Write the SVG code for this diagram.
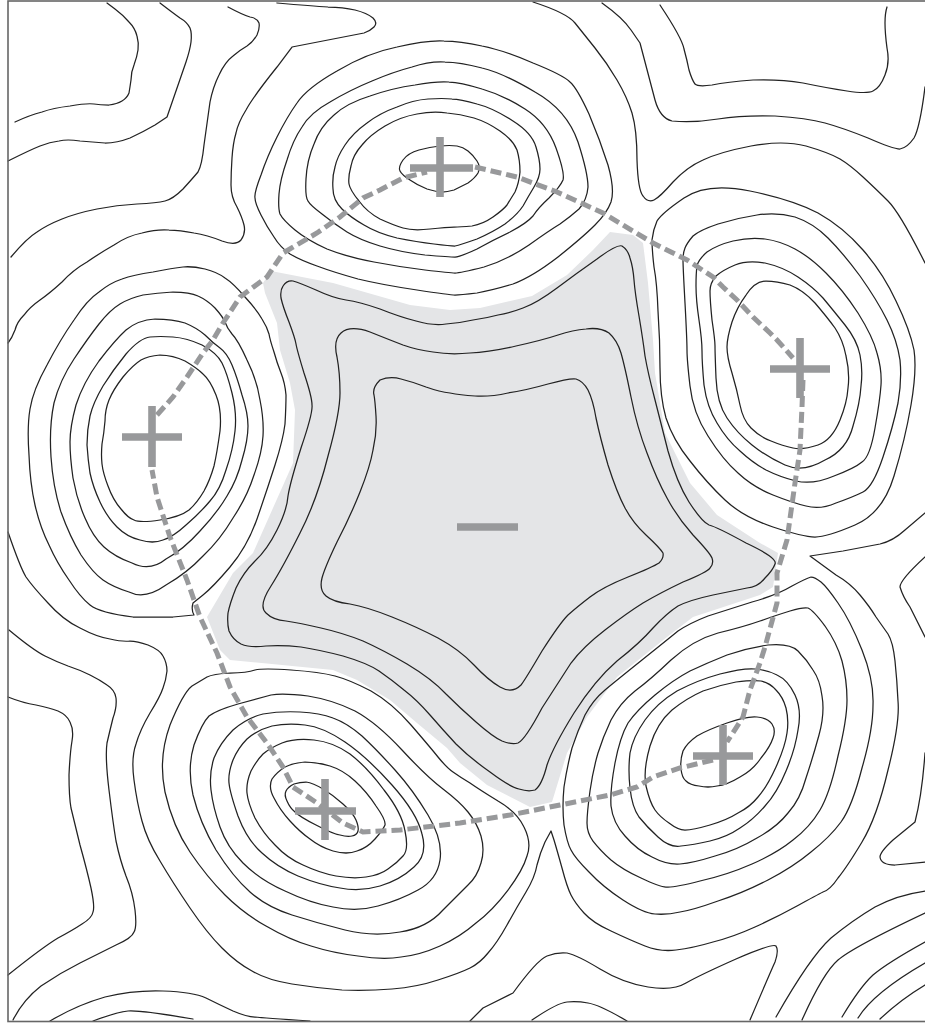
<svg xmlns="http://www.w3.org/2000/svg" width="925" height="1023" viewBox="0 0 925 1023">
<style>
.c path{fill:none;stroke:#222;stroke-width:1.25;stroke-linejoin:round;stroke-linecap:round}
.d{fill:none;stroke:#98999b;stroke-width:5;stroke-dasharray:11 5}
.p{fill:none;stroke:#98999b;stroke-width:7.6}
</style>
<rect width="925" height="1023" fill="#fff"/>
<polygon id="basin" fill="#e4e5e7" points="271,271 333,283 410,305 450,310 480,308 532,296 567,275 593,250 610,232 633,235 643,243 648,283 653,340 655,373 665,433 690,483 717,515 760,543 778,553 773,587 760,595 693,617 667,637 617,677 587,717 567,753 552,802 530,807 487,785 460,763 447,748 417,723 390,700 357,680 333,670 230,660 220,650 207,617 233,573 253,553 293,463 295,410 290,383 280,350 277,323 265,293 263,283"/>
<g id="contours" class="c">
<path d="M400,171 Q398,167 403,160 408,153 419,150 430,147 440,146 450,145 457,146 463,147 468,151 473,155 477,161 481,167 478,173 475,178 468,183 460,187 454,190 447,192 442,192 437,192 427,189 417,185 410,180 402,175 400,171Z"/>
<path d="M349,184 Q348,177 351,166 353,155 362,145 370,135 385,126 400,117 417,114 433,111 447,113 460,114 474,118 487,122 500,131 513,140 517,150 520,160 520,172 519,183 515,192 510,200 507,205 503,210 493,217 483,224 472,226 460,227 454,227 447,227 430,229 413,231 403,228 393,225 380,219 367,212 359,201 350,190 349,184Z"/>
<path d="M333,189 Q332,177 335,167 337,157 345,145 353,133 367,123 380,113 397,107 413,100 428,99 443,98 452,99 460,99 477,104 493,108 513,121 532,133 536,147 540,160 540,169 540,177 534,187 528,197 523,206 517,215 505,224 493,232 477,239 460,245 455,246 450,246 434,244 417,242 397,238 377,233 364,225 350,217 342,209 333,200 333,189Z"/>
<path d="M308,201 Q305,197 306,179 307,160 314,144 320,127 334,115 347,103 370,96 393,88 415,85 437,81 449,82 460,82 482,89 503,95 525,109 547,123 556,148 565,173 563,180 560,187 549,198 538,208 533,216 527,223 510,232 493,240 477,249 460,257 455,257 450,257 425,255 400,252 380,246 360,240 347,232 333,223 322,214 310,205 308,201Z"/>
<path d="M280,214 Q278,208 279,194 280,180 287,160 293,140 302,127 310,113 330,102 350,90 372,81 393,72 412,67 430,61 445,62 460,62 482,68 503,73 535,92 567,110 578,142 588,173 588,187 587,200 579,209 570,217 560,224 550,230 529,245 507,260 484,267 460,273 455,273 450,273 425,270 400,267 374,262 347,257 327,249 307,240 295,230 283,220 280,214Z"/>
<path d="M255,198 Q254,193 261,175 267,157 277,137 287,117 297,103 307,88 337,71 367,53 397,47 427,40 444,41 460,41 482,46 503,50 533,63 563,75 570,82 577,88 589,114 600,140 608,165 615,190 611,202 607,213 595,225 583,237 558,257 532,277 513,284 493,290 477,293 460,295 455,295 450,295 417,290 383,285 358,279 333,272 317,266 300,260 290,254 280,247 274,237 267,227 261,215 255,203 255,198Z"/>
<path d="M107,3 L115,9 Q123,15 129,22 135,28 137,36 139,43 138,50 137,57 134,65 131,72 131,80 130,87 129,93 127,98 122,101 117,104 109,105 100,105 94,104 87,103 70,106 53,108 42,112 30,115 15,122"/>
<path d="M160,3 Q173,13 180,18 187,22 190,28 192,33 191,42 190,50 186,62 L167,117 L155,125 Q143,132 130,138 117,143 105,143 93,142 80,141 67,139 59,141 50,142 40,146 30,150 8,161"/>
<path d="M228,7 Q243,15 250,17 257,18 259,23 260,28 257,35 253,42 247,46 240,50 233,56 225,62 219,75 213,87 210,102 L204,145 Q202,165 198,172 193,178 183,189 173,199 165,201 157,203 137,204 117,205 97,209 77,213 62,219 47,225 37,232 27,238 11,257"/>
<path d="M277,3 Q313,6 328,7 343,7 355,10 367,13 373,18 378,23 374,27 370,31 364,33 L292,47 L277,67 Q253,97 246,110 238,123 236,133 233,143 232,158 231,173 231,185 231,197 237,207 242,217 244,225 246,233 241,240 236,246 222,241 207,235 194,233 180,230 169,230 157,229 142,233 127,236 114,245 100,253 87,262 73,270 62,282 50,293 40,300 30,307 24,315 17,322 15,330 12,338 8,343"/>
<path d="M47,365 Q60,340 74,320 87,300 99,292 110,283 122,279 133,275 153,272 173,268 183,267 192,266 205,269 217,272 225,278 233,283 245,297 257,310 262,319 267,327 269,334 270,340 274,352 277,363 281,373 285,383 286,395 286,407 285,424 283,440 275,465 267,490 257,519 247,547 230,567 213,587 203,595 L193,603 Q191,610 194,615 L173,617 L133,617 Q100,613 90,605 80,597 69,580 57,563 49,545 40,527 35,505 30,483 29,455 27,427 30,409 33,390 47,365Z"/>
<path d="M105,421 Q105,410 109,400 113,390 123,377 133,365 141,360 148,356 160,355 173,355 185,361 197,368 203,374 210,380 216,395 222,410 220,431 217,453 214,466 210,480 204,491 197,503 189,510 180,517 160,520 140,523 134,520 128,518 121,509 113,500 108,486 103,473 102,464 101,455 102,444 104,433 105,421Z"/>
<path d="M87,445 Q87,430 90,416 93,403 103,386 113,370 126,354 140,338 150,337 160,336 173,337 187,338 202,345 217,353 222,363 227,373 232,393 237,413 235,431 233,450 226,470 220,490 210,501 200,513 186,525 173,537 163,540 153,544 140,540 127,537 117,527 107,517 100,502 93,487 90,473 88,460 87,445Z"/>
<path d="M70,442 Q70,427 76,405 83,383 99,361 115,340 126,330 138,320 155,319 173,319 185,323 197,328 205,335 213,343 220,348 227,353 232,365 237,377 242,395 248,413 248,426 248,440 242,460 237,480 227,496 217,513 200,531 183,550 166,559 150,572 132,563 115,557 104,547 93,537 85,518 77,500 73,478 70,457 70,442Z"/>
<path d="M51,457 Q49,427 54,403 60,380 74,359 88,338 99,324 110,310 120,304 130,298 143,295 157,293 173,292 190,292 198,296 207,300 215,308 223,317 225,322 227,328 232,334 238,340 247,360 257,380 260,400 264,420 263,436 262,453 254,475 247,497 233,518 220,540 203,556 187,573 166,585 145,600 129,592 113,587 103,580 93,573 81,555 70,537 61,512 53,487 51,457Z"/>
<path d="M8,532 Q20,567 26,577 33,587 48,603 63,620 80,628 97,637 110,639 123,642 130,641 137,641 148,645 160,650 163,656 167,663 167,671 166,680 163,688 160,697 150,713 140,730 136,744 131,758 134,780 137,803 142,821 147,840 160,861 173,883 190,908 207,933 222,948 237,963 252,971 267,980 292,984 317,988 342,990 367,991 392,989 417,987 438,980 460,973 470,968 480,963 488,953 497,943 507,925 517,907 526,892 535,877 537,865 540,853 545,842 L551,831 L554,840 Q557,850 562,868 567,887 571,895 575,903 584,913 593,923 611,931 630,940 645,946 660,952 676,950 693,948 713,942 733,937 755,927 777,917 797,906 817,895 823,892 830,890 838,878 847,867 862,842 877,817 888,770 900,723 898,701 897,680 895,661 893,642 888,634 883,627 876,617 870,607 860,595 850,583 836,575 L810,556 L843,551 L880,544 Q893,541 905,530 L925,513"/>
<path d="M681,769 Q680,760 683,751 687,743 697,736 707,730 727,723 747,716 757,717 768,718 772,724 776,730 773,738 770,747 761,758 753,770 740,777 727,785 717,786 708,788 699,786 690,785 686,781 682,778 681,769Z"/>
<path d="M650,746 Q643,770 646,786 650,803 655,810 660,817 669,823 678,830 685,830 693,830 710,825 727,820 738,813 750,807 758,797 767,787 776,767 785,747 787,733 789,720 786,708 783,697 776,690 770,683 761,681 753,680 736,682 720,685 703,691 687,698 672,710 657,723 650,746Z"/>
<path d="M630,753 Q628,770 630,788 632,807 639,817 647,827 658,837 670,848 681,846 693,845 710,841 727,837 740,828 753,820 765,806 777,793 786,771 795,750 798,730 802,710 795,695 788,680 777,675 767,670 755,669 743,668 720,674 698,680 677,691 657,703 645,720 633,737 630,753Z"/>
<path d="M615,763 Q610,790 611,806 613,823 625,836 637,850 652,857 667,865 680,864 693,863 715,856 737,850 757,838 777,827 788,813 800,800 806,778 813,757 819,735 825,713 822,696 820,680 813,670 807,660 798,651 790,643 768,645 747,648 727,655 707,663 690,671 673,680 655,695 637,710 628,723 620,737 615,763Z"/>
<path d="M590,791 Q587,813 587,823 587,833 593,841 600,850 611,860 623,870 641,878 660,887 666,887 673,888 700,881 727,875 752,864 777,853 793,840 810,827 820,810 830,793 838,756 847,720 847,700 847,680 842,661 837,643 825,626 813,610 808,608 803,607 790,611 777,615 760,621 743,627 718,633 693,640 671,660 650,680 635,691 620,703 611,720 603,737 598,753 593,770 590,791Z"/>
<path d="M564,787 Q562,807 564,825 567,843 571,850 575,858 589,872 603,887 623,900 643,913 655,914 667,915 680,912 693,910 718,901 743,893 768,880 793,867 811,852 830,837 841,822 852,807 862,768 873,730 873,705 874,680 862,650 850,620 838,603 827,587 821,582 815,577 811,577 807,578 792,586 777,595 752,602 727,610 708,616 690,623 678,631 667,640 642,660 617,680 605,690 593,700 585,715 578,730 572,748 567,767 564,787Z"/>
<path d="M287,801 Q284,795 286,791 288,787 294,784 300,782 306,782 313,783 323,789 333,795 343,804 353,813 356,820 359,827 358,831 357,835 352,836 347,837 340,835 333,834 316,825 300,817 295,812 290,808 287,801Z"/>
<path d="M274,798 Q268,787 272,779 277,772 285,767 293,763 305,762 317,762 330,766 343,770 355,781 367,792 376,806 386,820 385,825 383,830 375,839 367,848 357,851 347,855 333,851 320,847 310,839 300,832 290,821 280,810 274,798Z"/>
<path d="M247,793 Q246,783 251,771 257,760 263,754 270,748 282,743 295,738 314,740 333,742 350,754 367,767 384,790 402,813 405,831 409,850 403,856 397,863 388,869 380,875 366,877 353,879 336,876 320,873 303,865 287,858 275,845 263,833 255,818 248,803 247,793Z"/>
<path d="M229,783 Q228,773 233,760 238,748 247,739 257,730 272,726 287,723 305,725 323,727 345,742 367,757 392,785 417,813 422,834 428,855 414,867 400,880 380,886 360,892 340,888 320,885 298,876 277,867 262,853 247,840 238,816 230,793 229,783Z"/>
<path d="M211,790 Q209,773 214,758 220,743 233,730 247,718 263,714 280,711 300,712 320,713 333,718 347,723 362,736 377,750 395,770 413,790 428,815 443,840 440,860 437,880 418,890 400,900 378,906 357,912 333,907 310,903 285,891 260,880 243,863 227,847 220,827 213,807 211,790Z"/>
<path d="M193,795 Q187,768 194,745 202,723 209,716 217,710 238,704 260,698 271,695 283,693 308,696 333,700 355,711 377,723 402,750 427,777 443,789 460,802 468,812 477,823 481,836 485,850 481,863 477,877 468,885 460,893 443,910 427,928 400,932 373,937 345,930 317,923 292,915 267,907 250,892 233,877 216,850 200,823 193,795Z"/>
<path d="M192,686 Q202,680 207,677 213,674 230,673 247,673 255,670 263,668 291,670 320,672 335,676 350,680 371,691 392,703 411,725 430,747 438,757 447,768 453,772 460,777 470,783 480,790 498,801 517,812 524,827 532,843 527,856 523,870 508,890 493,910 476,923 460,937 440,946 420,955 401,957 383,960 358,956 333,953 311,946 290,940 266,926 243,913 225,895 207,877 190,852 173,827 165,792 158,758 170,725 183,693 192,686Z"/>
<path d="M8,697 Q23,703 36,705 50,708 58,711 67,715 70,722 74,730 72,741 70,753 69,775 69,797 71,808 74,820 80,845 87,870 91,888 95,907 93,912 92,918 82,924 73,930 58,938 43,947 8,975"/>
<path d="M9,630 Q33,650 45,656 57,662 68,666 80,670 90,675 100,680 107,685 115,690 116,698 117,707 113,718 110,730 107,743 105,757 109,790 113,823 116,841 120,860 126,876 133,893 135,910 137,927 134,932 132,938 116,945 100,953 80,963 60,973 41,986 23,1000 13,1020"/>
<path d="M50,1021 Q77,1005 105,997 133,990 163,991 193,992 206,998 220,1005 233,1011 247,1017 255,1017 263,1018 310,1021"/>
<path d="M93,1021 Q117,1012 128,1011 140,1010 193,1019"/>
<path d="M470,1021 L483,1008 L513,993 Q537,960 547,956 557,952 567,953 577,955 600,969 623,983 648,987 673,991 686,983 700,975 736,959 773,943 776,946 779,950 775,962 770,973 750,1020"/>
<path d="M532,1020 Q557,1003 567,1002 577,1001 588,1003 600,1005 627,1021"/>
<path d="M776,1017 Q810,957 831,938 853,920 875,907 897,895 925,891"/>
<path d="M802,1020 Q823,973 838,960 853,947 925,913"/>
<path d="M842,1017 Q860,987 873,975 887,963 925,942"/>
<path d="M858,1018 Q873,993 925,963"/>
<path d="M880,1019 Q900,1000 925,985"/>
<path d="M925,753 Q922,795 915,822 L893,840 Q880,852 880,857 Q881,865 895,865 L925,862"/>
<path d="M925,557 Q900,580 900,587 Q903,597 910,607 L925,637"/>
<path d="M660,5 Q682,38 684,49 687,60 689,70 692,80 695,84 698,87 712,85 727,82 753,80 780,79 803,83 827,88 847,91 867,94 873,91 880,88 885,75 890,63 887,48 885,33 885,23 885,13 887,7"/>
<path d="M602,3 Q623,18 631,30 L640,43 L655,100 Q660,118 672,121 693,123 718,119 743,115 775,116 807,118 825,123 843,128 868,138 893,149 900,149 907,148 914,138 920,127 925,87"/>
<path d="M533,2 Q567,13 575,23 583,33 595,48 607,63 617,80 627,97 632,113 637,130 637,160 638,190 643,196 648,203 654,200 660,197 673,182 687,167 703,160 720,152 751,146 783,140 806,146 830,153 840,159 850,165 863,177 877,190 888,201 900,213 925,263"/>
<path d="M654,267 Q652,250 652,240 653,230 657,221 662,213 684,198 707,182 750,191 793,200 818,213 843,227 863,250 883,273 896,301 910,330 914,350 917,370 911,405 905,440 894,476 883,513 855,525 827,537 815,537 803,537 773,527 743,517 725,500 707,483 690,461 673,440 666,418 660,397 660,368 660,340 658,311 657,283 654,267Z"/>
<path d="M685,303 Q683,267 683,260 683,253 685,248 687,243 693,236 700,230 718,224 737,218 757,215 777,212 795,217 813,223 828,238 843,253 860,276 877,300 887,320 897,340 900,360 902,380 898,403 893,427 883,457 873,487 863,492 853,497 836,503 820,510 806,506 793,503 773,495 753,487 738,473 723,460 708,436 693,413 690,386 687,360 687,350 687,340 685,303Z"/>
<path d="M696,286 Q696,273 697,266 698,260 707,252 717,245 733,241 750,237 765,239 780,241 795,249 810,257 826,273 843,290 858,313 873,337 877,353 882,370 881,385 880,400 875,428 870,457 862,462 855,468 834,476 813,485 796,481 780,477 766,470 753,463 740,451 727,440 717,423 707,407 704,385 702,363 702,351 702,340 699,320 696,300 696,286Z"/>
<path d="M710,291 Q710,283 716,276 723,270 735,265 747,260 765,263 783,267 798,277 813,287 823,298 833,310 845,325 857,340 860,355 863,370 861,386 860,403 853,426 847,450 825,460 803,473 785,465 767,457 752,445 737,433 727,418 717,403 716,378 715,353 715,346 715,340 712,320 710,300 710,291Z"/>
<path d="M727,347 Q727,338 732,322 737,307 746,295 755,281 766,281 777,281 790,285 803,290 815,303 827,317 835,328 843,340 846,356 850,373 848,388 847,403 840,420 832,440 818,445 803,450 793,448 783,446 771,441 760,437 751,428 743,420 740,405 737,390 732,373 727,357 727,347Z"/>
<path d="M281,298 Q280,290 283,286 287,280 293,281 300,283 316,290 333,298 346,300 360,302 380,309 400,317 416,321 433,326 446,324 460,323 473,320 487,318 498,315 510,313 523,308 537,303 557,288 577,273 597,259 617,244 622,246 628,250 630,258 633,267 634,280 635,293 639,316 643,340 645,356 648,373 654,396 660,420 668,451 677,483 689,502 702,522 709,525 717,527 746,543 778,558 775,564 773,570 765,578 758,587 747,588 737,590 713,595 690,600 678,606 667,613 653,628 640,643 617,661 595,680 574,713 553,747 547,765 542,785 535,790 528,792 519,789 510,787 490,772 470,758 456,744 443,730 430,715 417,700 404,690 392,680 379,671 367,663 343,656 320,650 301,647 283,645 266,646 250,648 241,644 233,640 229,631 227,623 228,613 230,603 236,588 243,573 255,561 267,550 277,530 287,510 288,496 290,483 301,448 313,413 312,405 312,397 304,373 297,350 296,344 295,338 289,322 283,307 281,298Z"/>
<path d="M337,357 Q333,340 341,333 350,325 370,332 390,340 403,345 417,350 433,352 450,355 470,353 490,352 516,346 543,340 558,335 573,330 586,329 600,327 609,333 617,340 621,353 625,367 631,397 637,427 647,453 657,480 667,498 677,517 693,535 710,553 712,558 714,564 710,568 707,572 683,582 660,593 643,603 627,613 605,630 583,647 571,663 560,680 542,708 525,740 518,743 512,745 502,741 493,737 476,722 460,708 446,694 432,679 407,664 383,650 363,641 343,633 321,628 300,623 286,621 273,620 266,613 258,606 271,586 283,567 300,533 317,500 328,456 340,413 340,393 340,373 337,357Z"/>
<path d="M376,416 Q375,400 374,395 372,388 380,380 390,376 401,379 413,382 426,387 440,392 450,393 460,395 475,396 490,397 508,393 527,390 548,384 570,378 576,379 583,381 588,390 593,400 596,418 600,437 608,465 617,493 625,508 633,523 646,535 660,548 663,553 664,558 659,563 653,567 628,577 603,587 590,597 577,607 568,615 560,623 542,651 525,680 521,685 512,694 500,687 488,680 474,665 460,650 438,638 417,627 392,617 367,607 350,604 333,602 326,596 319,590 322,578 325,567 337,542 350,517 360,492 370,467 373,450 377,433 376,416Z"/>
</g>
<rect id="frame" x="8" y="1" width="925" height="1020.500" fill="none" stroke="#666" stroke-width="1.6"/>
<g id="ring">
<polyline class="d" points="475,167 517,177 557,192 603,213 653,243 687,260 713,277 723,287 737,300 753,317 770,333 777,340 793,358"/>
<polyline class="d" points="803,380 802,407 800,450 795,483 787,540 777,573 777,603 765,647 760,663 750,690 743,717 727,742"/>
<polyline class="d" points="713,760 680,768 653,777 637,787 610,795 560,805 510,815 460,823 400,830 363,832 343,823 317,803 293,787 283,767 267,743 247,717 230,687 217,653 200,617 187,580 170,537 157,497 152,470"/>
<polyline class="d" points="157,415 173,397 187,377 203,353 213,340 223,323 240,297 267,277 283,253 317,233 340,217 363,198 380,190 403,178 427,172"/>
</g>
<g id="signs">
<path class="p" d="M440 137V197M410 168H473"/>
<path class="p" d="M152 406V467M122 437H182"/>
<path class="p" d="M800 338V398M770 369H830"/>
<path class="p" d="M723 725V785M693 756H753"/>
<path class="p" d="M325 779V840M295 811H356"/>
<path class="p" d="M457 527H518"/>
</g>
</svg>
